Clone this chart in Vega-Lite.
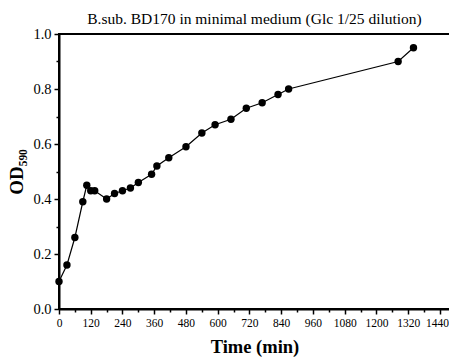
{
  "$schema": "https://vega.github.io/schema/vega-lite/v6.json",
  "autosize": "none",
  "width": 391,
  "height": 275,
  "padding": {"left": 59, "top": 34, "right": 0, "bottom": 51},
  "background": "white",
  "config": {
    "font": "Liberation Serif",
    "view": {"stroke": "black", "strokeWidth": 2}
  },
  "title": {
    "text": "B.sub. BD170 in minimal medium (Glc 1/25 dilution)",
    "font": "Liberation Serif",
    "fontSize": 15.5,
    "fontWeight": "normal",
    "color": "black",
    "anchor": "middle",
    "offset": -1
  },
  "data": {
    "values": [
      {"t": 0, "od": 0.10},
      {"t": 30, "od": 0.16},
      {"t": 60, "od": 0.26},
      {"t": 90, "od": 0.39},
      {"t": 105, "od": 0.45},
      {"t": 120, "od": 0.43},
      {"t": 135, "od": 0.43},
      {"t": 180, "od": 0.40},
      {"t": 210, "od": 0.42},
      {"t": 240, "od": 0.43},
      {"t": 270, "od": 0.44},
      {"t": 300, "od": 0.46},
      {"t": 350, "od": 0.49},
      {"t": 370, "od": 0.52},
      {"t": 415, "od": 0.55},
      {"t": 480, "od": 0.59},
      {"t": 540, "od": 0.64},
      {"t": 590, "od": 0.67},
      {"t": 650, "od": 0.69},
      {"t": 708, "od": 0.73},
      {"t": 768, "od": 0.75},
      {"t": 828, "od": 0.78},
      {"t": 868, "od": 0.80},
      {"t": 1282, "od": 0.90},
      {"t": 1340, "od": 0.95}
    ]
  },
  "encoding": {
    "x": {
      "field": "t",
      "type": "quantitative",
      "scale": {"domain": [0, 1478], "nice": false, "zero": false},
      "axis": {
        "title": "Time (min)",
        "titleFont": "Liberation Serif",
        "titleFontSize": 18.5,
        "titleFontWeight": "bold",
        "titleColor": "black",
        "titlePadding": 9,
        "values": [0, 60, 120, 180, 240, 300, 360, 420, 480, 540, 600, 660, 720, 780, 840, 900, 960, 1020, 1080, 1140, 1200, 1260, 1320, 1380, 1440],
        "labelExpr": "datum.value % 120 === 0 ? datum.label : ''",
        "format": "d",
        "labelFont": "Liberation Serif",
        "labelFontSize": 11.5,
        "labelColor": "black",
        "labelPadding": 3,
        "labelOffset": {"condition": {"test": "datum.value === 1440", "value": -3}, "value": 0},
        "labelFlush": false,
        "labelOverlap": false,
        "grid": false,
        "domainColor": "black",
        "domainWidth": 2,
        "tickColor": "black",
        "tickWidth": 1.5,
        "tickSize": {"condition": {"test": "datum.value % 120 === 0", "value": 5}, "value": 3}
      }
    },
    "y": {
      "field": "od",
      "type": "quantitative",
      "scale": {"domain": [0, 1], "nice": false},
      "axis": {
        "title": "OD₅₉₀",
        "titleFont": "Liberation Serif",
        "titleFontSize": 19,
        "titleFontWeight": "bold",
        "titleColor": "black",
        "titlePadding": 6,
        "values": [0, 0.1, 0.2, 0.3, 0.4, 0.5, 0.6, 0.7, 0.8, 0.9, 1.0],
        "labelExpr": "round(datum.value * 10) % 2 === 0 ? format(datum.value, '.1f') : ''",
        "labelFont": "Liberation Serif",
        "labelFontSize": 14.5,
        "labelColor": "black",
        "labelPadding": 3,
        "labelFlush": false,
        "labelOverlap": false,
        "grid": false,
        "domainColor": "black",
        "domainWidth": 2,
        "tickColor": "black",
        "tickWidth": 1.5,
        "tickSize": {"condition": {"test": "round(datum.value * 10) % 2 === 0", "value": 5}, "value": 3}
      }
    }
  },
  "layer": [
    {"mark": {"type": "line", "color": "black", "strokeWidth": 1.2}},
    {"mark": {"type": "point", "filled": true, "color": "black", "size": 55, "opacity": 1}}
  ]
}
